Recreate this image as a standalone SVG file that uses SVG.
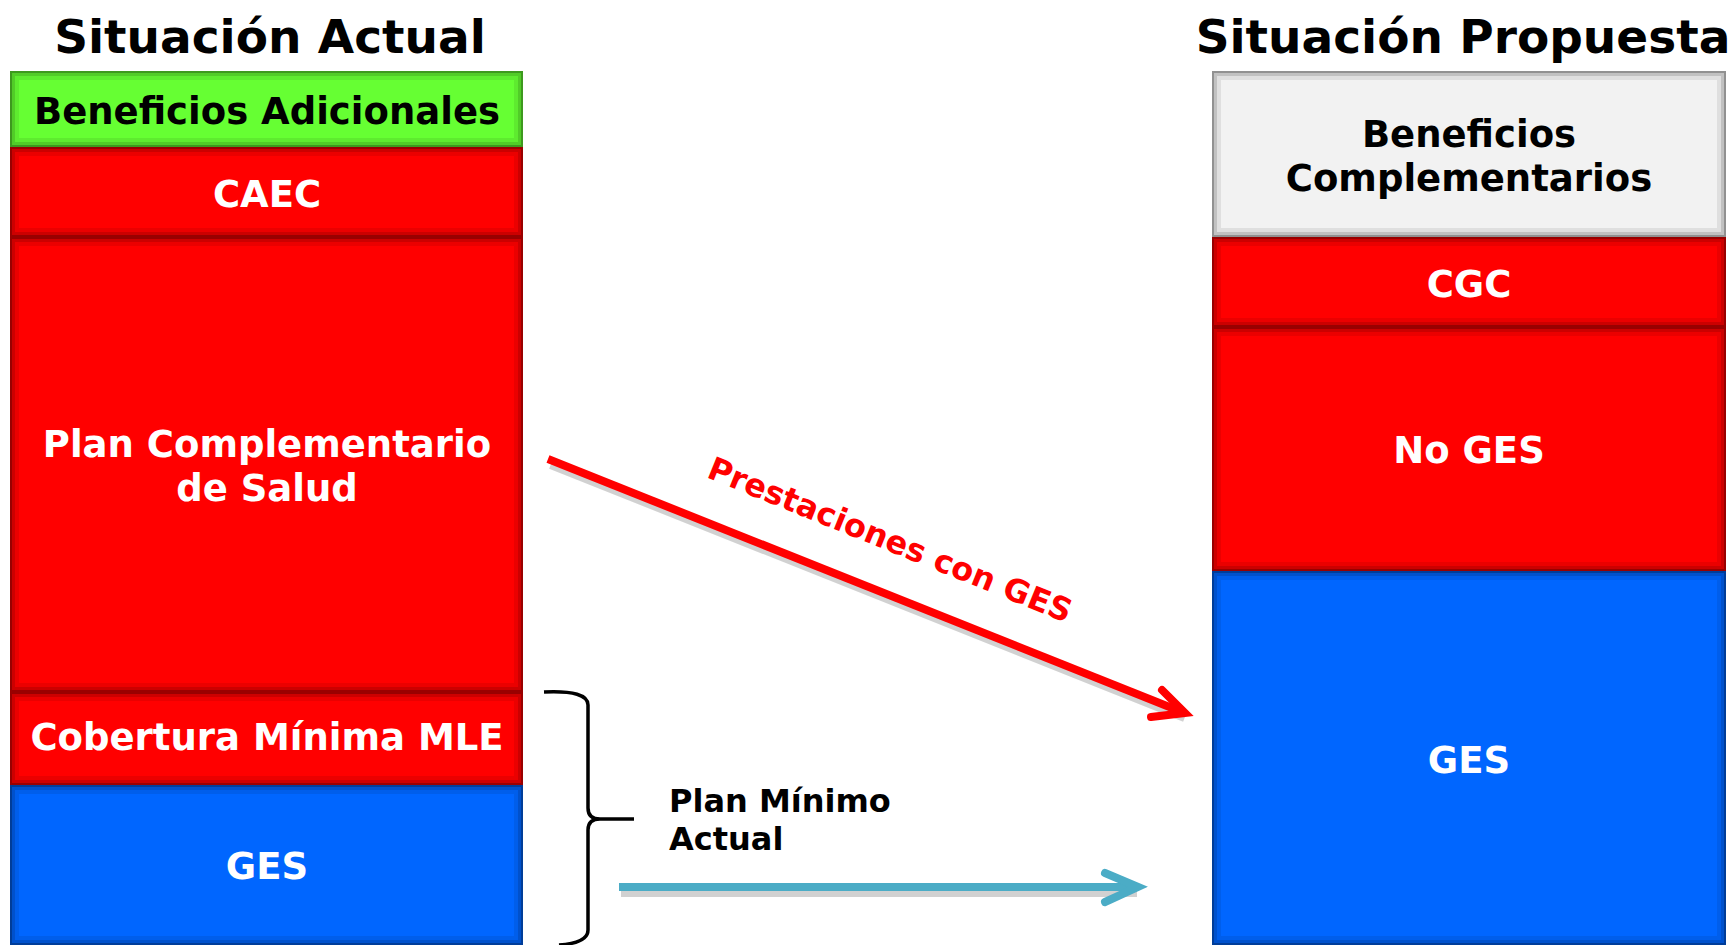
<svg xmlns="http://www.w3.org/2000/svg" width="1735" height="945" viewBox="0 0 1735 945">
<style>
.t{font-family:"DejaVu Sans","Verdana",sans-serif;font-weight:bold;text-anchor:middle}
.title{font-size:47px;fill:#000}
.lbl{font-size:37px}
.w{fill:#fff}
.k{fill:#000}
.side{font-family:"DejaVu Sans","Verdana",sans-serif;font-weight:bold;font-size:32px;fill:#000}
.red{fill:#ff0000}
.blue{fill:#0066ff}
.green{fill:#66ff33}
.gray{fill:#f2f2f2}
.s1{fill:none;stroke:#000;stroke-width:2;stroke-opacity:0.4}
.s2{fill:none;stroke:#000;stroke-width:3;stroke-opacity:0.2}
.s3{fill:none;stroke:#000;stroke-width:4;stroke-opacity:0.08}
.shadow{fill:none;stroke:#000;stroke-opacity:0.18;stroke-width:10}
</style>
<rect width="1735" height="945" fill="#fff"/>

<text class="t title" x="270" y="53">Situación Actual</text>
<text class="t title" x="1463" y="53">Situación Propuesta</text>

<g id="beneficios-adicionales">
<rect class="green" x="10" y="71" width="513" height="76"/>
<rect class="s1" x="11" y="72" width="511" height="74"/>
<rect class="s2" x="13.5" y="74.5" width="506" height="69"/>
<rect class="s3" x="17" y="78" width="499" height="62"/>
<text class="t lbl k" x="267" y="124">Beneficios Adicionales</text>
</g>
<g id="caec">
<rect class="red" x="10" y="147" width="513" height="90"/>
<rect class="s1" x="11" y="148" width="511" height="88"/>
<rect class="s2" x="13.5" y="150.5" width="506" height="83"/>
<rect class="s3" x="17" y="154" width="499" height="76"/>
<text class="t lbl w" x="267" y="207">CAEC</text>
</g>
<g id="plan-complementario">
<rect class="red" x="10" y="237" width="513" height="455"/>
<rect class="s1" x="11" y="238" width="511" height="453"/>
<rect class="s2" x="13.5" y="240.5" width="506" height="448"/>
<rect class="s3" x="17" y="244" width="499" height="441"/>
<text class="t lbl w" x="267" y="457">Plan Complementario</text>
<text class="t lbl w" x="267" y="501">de Salud</text>
</g>
<g id="cobertura-minima">
<rect class="red" x="10" y="692" width="513" height="93"/>
<rect class="s1" x="11" y="693" width="511" height="91"/>
<rect class="s2" x="13.5" y="695.5" width="506" height="86"/>
<rect class="s3" x="17" y="699" width="499" height="79"/>
<text class="t lbl w" x="267" y="750">Cobertura Mínima MLE</text>
</g>
<g id="ges-actual">
<rect class="blue" x="10" y="785" width="513" height="160"/>
<rect class="s1" x="11" y="786" width="511" height="158"/>
<rect class="s2" x="13.5" y="788.5" width="506" height="153"/>
<rect class="s3" x="17" y="792" width="499" height="146"/>
<text class="t lbl w" x="267" y="879">GES</text>
</g>

<g id="beneficios-complementarios">
<rect class="gray" x="1212" y="71" width="514" height="166"/>
<rect class="s1" x="1213" y="72" width="512" height="164"/>
<rect class="s2" x="1215.5" y="74.5" width="507" height="159"/>
<rect class="s3" x="1219" y="78" width="500" height="152"/>
<text class="t lbl k" x="1469" y="147">Beneficios</text>
<text class="t lbl k" x="1469" y="191">Complementarios</text>
</g>
<g id="cgc">
<rect class="red" x="1212" y="237" width="514" height="90"/>
<rect class="s1" x="1213" y="238" width="512" height="88"/>
<rect class="s2" x="1215.5" y="240.5" width="507" height="83"/>
<rect class="s3" x="1219" y="244" width="500" height="76"/>
<text class="t lbl w" x="1469" y="297">CGC</text>
</g>
<g id="no-ges">
<rect class="red" x="1212" y="327" width="514" height="244"/>
<rect class="s1" x="1213" y="328" width="512" height="242"/>
<rect class="s2" x="1215.5" y="330.5" width="507" height="237"/>
<rect class="s3" x="1219" y="334" width="500" height="230"/>
<text class="t lbl w" x="1469" y="463">No GES</text>
</g>
<g id="ges-propuesta">
<rect class="blue" x="1212" y="571" width="514" height="374"/>
<rect class="s1" x="1213" y="572" width="512" height="372"/>
<rect class="s2" x="1215.5" y="574.5" width="507" height="367"/>
<rect class="s3" x="1219" y="578" width="500" height="360"/>
<text class="t lbl w" x="1469" y="773">GES</text>
</g>

<g id="plan-minimo-label">
<text class="side" x="669" y="812">Plan Mínimo</text>
<text class="side" x="669" y="850">Actual</text>
</g>

<g id="connectors" fill="none">
<line class="shadow" x1="551" y1="464" x2="1185" y2="717"/>
<line x1="548" y1="459" x2="1182" y2="712" stroke="#ff0000" stroke-width="8"/>
<polyline points="1162,690 1185,713 1151,717" stroke="#ff0000" stroke-width="8" stroke-linecap="round" stroke-linejoin="miter"/>
<line class="shadow" x1="621" y1="892" x2="1137" y2="892"/>
<line x1="619" y1="887" x2="1135" y2="887" stroke="#4bacc6" stroke-width="8"/>
<polyline points="1105,873 1138,887 1105,902" stroke="#4bacc6" stroke-width="8" stroke-linecap="round" stroke-linejoin="miter"/>
<path d="M 544 692 Q 588 690 588 705 L 588 808 Q 588 819 600 819 L 634 819 M 600 819 Q 588 819 588 830 L 588 930 Q 588 943 559 945" stroke="#000" stroke-width="3.5"/>
<text class="t red" font-size="32" transform="translate(886,550) rotate(22)" x="0" y="0">Prestaciones con GES</text>
</g>
</svg>
